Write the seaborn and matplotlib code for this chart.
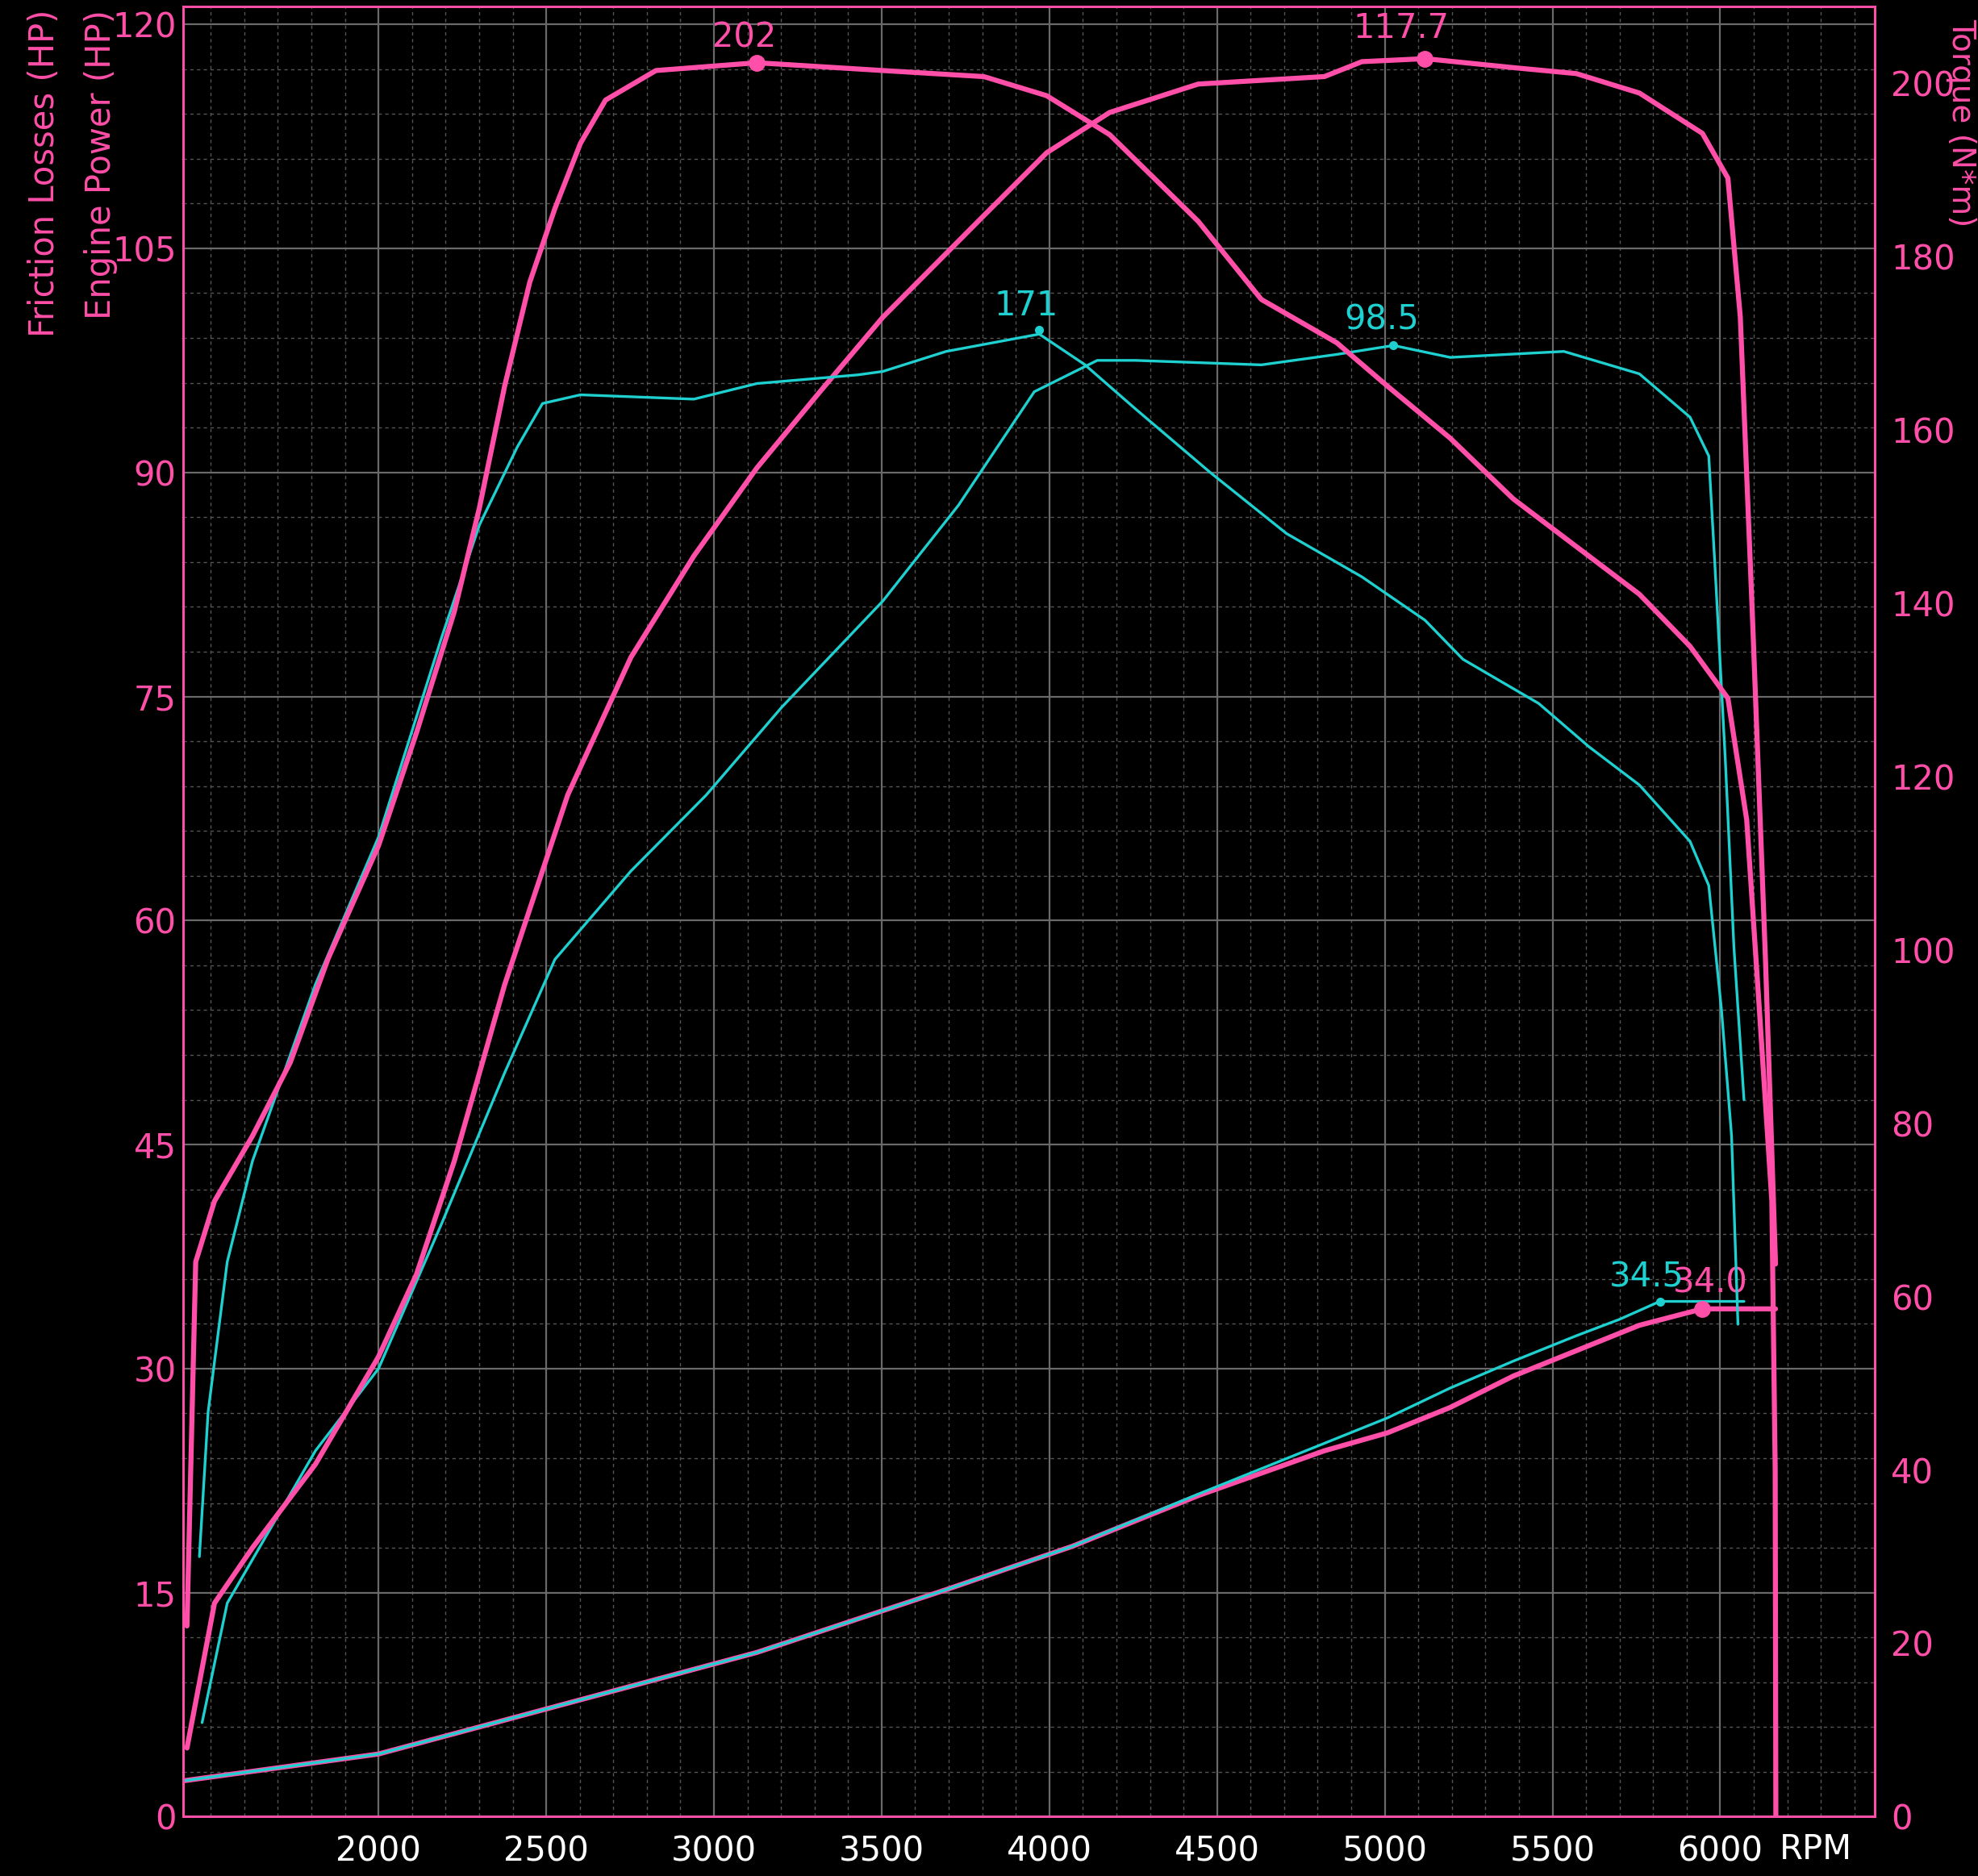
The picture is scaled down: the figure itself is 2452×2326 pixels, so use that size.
import matplotlib
matplotlib.use("Agg")
import matplotlib.pyplot as plt
import seaborn as sns
import numpy as np
from matplotlib.ticker import MultipleLocator

PINK = "#ff4fa8"; CYAN = "#1fd0d0"

# Pink run
pt_rpm = [1429,1455,1511,1624,1737,1850,2000,2113,2226,2301,2376,2451,2526,2602,2677,2827,3128,3504,3805,3992,4180,4444,4632,4857,5008,5195,5383,5571,5759,5910,6023,6079,6117,6154,6164,6166]
pt_nm  = [22,64,71,78.5,87,99,112,125,139,151,165,177,185.5,193,198,201.4,202.3,201.4,200.7,198.5,194,184,175,170,165,159,152,146.5,141,135,129,115,93,71,40,0]
pp_rpm = [1429,1511,1624,1812,2000,2113,2226,2376,2564,2752,2940,3128,3316,3504,3805,3992,4180,4444,4820,4932,5120,5383,5571,5759,5947,6023,6060,6098,6135,6165]
pp_hp  = [4.6,14.3,18,23.6,30.8,36.3,43.9,55.7,68.4,77.6,84.4,90.3,95.4,100.4,107.2,111.4,114.1,116,116.5,117.5,117.7,117.1,116.7,115.4,112.7,109.7,100.4,79.3,57.4,37]
pf_rpm = [1417,2000,2564,3128,3692,4068,4444,4820,5008,5195,5383,5571,5759,5947,6165]
pf_hp  = [2.4,4.2,7.6,11,15.2,18.1,21.5,24.5,25.7,27.4,29.5,31.2,32.9,34.0,34.0]
# Cyan run
ct_rpm = [1466,1492,1549,1624,1812,2000,2188,2301,2414,2489,2602,2940,3128,3429,3504,3692,3970,4105,4256,4481,4707,4932,5120,5233,5459,5609,5759,5910,5966,6004,6034,6053]
ct_nm  = [30,46.7,64,75.6,96,113,136,149,158,163,164,163.5,165.3,166.3,166.7,169,171,167.5,162.4,155,148,143,138,133.5,128.4,123.4,119,112.5,107.4,93,78.5,56.8]
cp_rpm = [1474,1549,1812,2000,2188,2376,2526,2752,2977,3203,3504,3729,3955,4143,4256,4632,4857,5026,5195,5534,5759,5910,5966,5985,6015,6041,6071]
cp_hp  = [6.3,14.3,24.5,30,39.7,49.8,57.4,63.3,68.4,74.3,81.4,87.8,95.4,97.5,97.5,97.2,97.9,98.5,97.7,98.1,96.6,93.7,91.1,83.5,70.9,58.2,48]
cf_rpm = [1417,2000,2564,3128,3692,4068,4444,4820,5008,5195,5383,5571,5700,5820,6071]
cf_hp  = [2.4,4.2,7.6,11,15.2,18.1,21.6,25,26.7,28.7,30.5,32.2,33.3,34.5,34.5]

x_ticks = [2000,2500,3000,3500,4000,4500,5000,5500,6000]

sns.set_style("dark")
plt.rcParams['font.family'] = ['DejaVu Sans']
fig = plt.figure(figsize=(24.52, 23.26), dpi=100, facecolor="black")
ax = fig.add_axes([0.0925, 0.0316, 0.8555, 0.965])
ax2 = ax.twinx()
for a in (ax, ax2):
    a.set_facecolor("black")
ax2.patch.set_alpha(0)

ax.set_xlim(1417, 6462)
ax.set_ylim(0, 121.2)
ax2.set_ylim(0, 208.8)

ax.xaxis.set_major_locator(MultipleLocator(500)); ax.xaxis.set_minor_locator(MultipleLocator(100))
ax.yaxis.set_major_locator(MultipleLocator(15)); ax.yaxis.set_minor_locator(MultipleLocator(3))
ax.grid(which="major", color="#6a6a6a", lw=1.6, ls="-")
ax.grid(which="minor", color="#555555", lw=1.0, ls=(0, (3, 3)))
ax.set_axisbelow(True)
ax.set_xticks(x_ticks)
ax.set_xticklabels([str(v) for v in x_ticks])
ax2.yaxis.set_major_locator(MultipleLocator(20))
ax2.grid(False)

lw = 4.5
sns.lineplot(x=pf_rpm, y=pf_hp, ax=ax, color=PINK, lw=lw, sort=False)
sns.lineplot(x=cf_rpm, y=cf_hp, ax=ax, color=CYAN, lw=2.4, sort=False)
sns.lineplot(x=cp_rpm, y=cp_hp, ax=ax, color=CYAN, lw=2.4, sort=False)
sns.lineplot(x=pp_rpm, y=pp_hp, ax=ax, color=PINK, lw=lw, sort=False)
sns.lineplot(x=ct_rpm, y=ct_nm, ax=ax2, color=CYAN, lw=2.4, sort=False)
sns.lineplot(x=pt_rpm, y=pt_nm, ax=ax2, color=PINK, lw=lw, sort=False)

fs = 30
ax.plot([5120], [117.7], 'o', color=PINK, ms=14)
ax.text(5050, 118.6, "117.7", color=PINK, fontsize=fs, ha="center", va="bottom")
ax.plot([5947], [34.0], 'o', color=PINK, ms=14)
ax.text(5970, 34.6, "34.0", color=PINK, fontsize=fs, ha="center", va="bottom")
ax.plot([5026], [98.5], 'o', color=CYAN, ms=7)
ax.text(4990, 99.1, "98.5", color=CYAN, fontsize=fs, ha="center", va="bottom")
ax.plot([5820], [34.5], 'o', color=CYAN, ms=7)
ax.text(5780, 35.0, "34.5", color=CYAN, fontsize=fs, ha="center", va="bottom")
ax2.plot([3128], [202.3], 'o', color=PINK, ms=14)
ax2.text(3090, 203.3, "202", color=PINK, fontsize=fs, ha="center", va="bottom")
ax2.plot([3970], [171.5], 'o', color=CYAN, ms=7)
ax2.text(3930, 172.3, "171", color=CYAN, fontsize=fs, ha="center", va="bottom")

ax.tick_params(axis="y", colors=PINK, labelsize=fs, length=0, pad=6)
ax.tick_params(axis="x", colors="white", labelsize=fs, length=10, width=1.5, pad=6)
ax.tick_params(axis="x", which="minor", length=6, color="white")
ax2.tick_params(axis="y", colors=PINK, labelsize=fs, length=0, pad=14)
for a in (ax, ax2):
    for s in a.spines.values():
        s.set_color(PINK); s.set_linewidth(2)

fig.text(0.0225, 0.995, "Friction Losses (HP)", color=PINK, fontsize=fs, rotation=90, ha="center", va="top")
fig.text(0.051, 0.995, "Engine Power (HP)", color=PINK, fontsize=fs, rotation=90, ha="center", va="top")
fig.text(0.9915, 0.99, "Torque (N*m)", color=PINK, fontsize=28, rotation=270, ha="center", va="top")
fig.text(0.918, 0.005, "RPM", color="white", fontsize=fs, ha="center", va="bottom")

fig.savefig("out.png", dpi=100, facecolor="black")
